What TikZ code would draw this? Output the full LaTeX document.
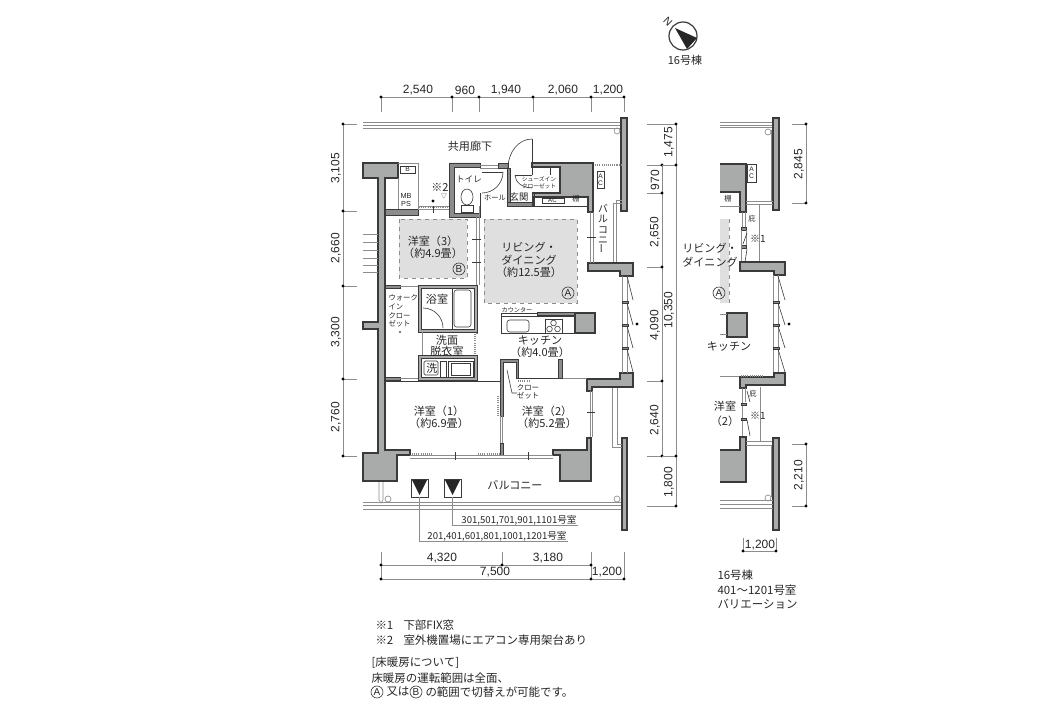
\documentclass[tikz,border=0pt]{standalone}
\usepackage{fontspec}
\setmainfont{Noto Sans CJK JP}
\newfontfamily\numfont{Liberation Sans}
\definecolor{wallgrey}{HTML}{A9ABAA}
\definecolor{zonegrey}{HTML}{DEDFDE}
\definecolor{lineink}{HTML}{3A3A3A}
\definecolor{thinink}{HTML}{8C8C8C}
\definecolor{textink}{HTML}{262626}
\tikzset{every picture/.style={line width=0.75pt}}
\tikzset{
  wall/.style={draw=lineink,fill=wallgrey,line width=0.8pt},
  partwall/.style={draw=lineink,fill=thinink,line width=0.5pt},
  fine/.style={draw=thinink,line width=0.5pt},
  ink/.style={draw=lineink,line width=0.45pt},
  dotrow/.style={draw=thinink,line width=1.6pt,dash pattern=on 0.8pt off 0.8pt},
  zone/.style={fill=zonegrey,draw=thinink,line width=0.6pt,dashed},
  dimline/.style={draw=thinink,line width=0.6pt},
  roomlbl/.style={inner sep=0pt,text=textink,font=\fontsize{8.3}{9}\selectfont,align=center},
  smalllbl/.style={inner sep=0pt,text=textink,font=\fontsize{6}{7.5}\selectfont,align=center},
  tinylbl/.style={inner sep=0pt,text=textink,font=\fontsize{4.6}{6}\selectfont,align=center},
  numlbl/.style={inner sep=0pt,text=textink,font=\numfont\fontsize{9}{10}\selectfont},
  notelbl/.style={inner sep=0pt,anchor=west,text=textink,font=\fontsize{8.6}{10}\selectfont},
  zonetag/.style={circle,draw=lineink,line width=0.5pt,inner sep=0pt,minimum size=9pt,text=textink,font=\numfont\fontsize{7.5}{8}\selectfont},
}
\begin{document}
\begin{tikzpicture}[x=0.75pt,y=0.75pt,yscale=-1,xscale=1]
\useasboundingbox (0,0) rectangle (1056,706);
% heated zones
\draw [zone] (399,219) rectangle (467,278);
\draw [zone] (484,219) rectangle (577,303);
\fill [zonegrey] (720,219) rectangle (729,303);
\draw [thinink,line width=0.6pt,dashed] (729,219) -- (729,303);
% corridor and balcony edges
\draw [fine] (363,122) -- (622,122);
\draw [fine] (363,125) -- (622,125);
\draw [fine] (363,128) -- (622,128);
\draw [fine] (363,502) -- (622,502);
\draw [fine] (363,505) -- (622,505);
\draw [fine] (363,509) -- (622,509);
\draw [wall] (621,118) rectangle (627,211);
\draw [wall] (622,438) rectangle (627,530);
\draw [fine] (617,131) circle (3);
\draw [fine] (388,499) circle (3);
\draw [fine] (617,499) circle (3);
\draw [fine] (379,481) -- (379,500) -- (381,503) -- (383,500) -- (383,481);
\draw [fine] (613,265) -- (613,203) -- (622,203);
\draw [fine] (616,265) -- (616,200) -- (622,200);
\draw [fine] (612,386) -- (612,447) -- (622,447);
\draw [fine] (617,386) -- (617,444) -- (622,444);
\draw [dotrow] (593,165) -- (621,165);
\draw [ink,fill=white] (597,171) rectangle (604,188);
\draw (600.5,179.5) node (acnorth) [tinylbl,font=\numfont\fontsize{5}{5.5}\selectfont] {A\\C};
% main walls
\draw [wall] (363,163) -- (398,163) -- (398,178) -- (385,178) -- (385,450) -- (410,450) -- (410,455) -- (397,455) -- (397,481) -- (363,481) -- (363,453) -- (378,453) -- (378,329) -- (363,329) -- (363,322) -- (378,322) -- (378,178) -- (363,178) -- cycle;
\draw [wall] (553,450) -- (587,450) -- (587,438) -- (591,438) -- (591,481) -- (560,481) -- (560,455) -- (553,455) -- cycle;
\draw [wall] (532,163) -- (593,163) -- (593,212) -- (588,212) -- (588,197) -- (533,197) -- (533,193) -- (560,193) -- (560,167) -- (532,167) -- cycle;
\draw [wall] (588,263) -- (633,263) -- (633,276) -- (620,276) -- (620,271) -- (588,271) -- cycle;
\draw [wall] (587,379) -- (620,379) -- (620,373) -- (633,373) -- (633,387) -- (592,387) -- (592,391) -- (587,391) -- cycle;
\draw [partwall] (385,209) rectangle (418,215);
\draw [partwall] (449,163) -- (480,163) -- (480,167) -- (454,167) -- (454,213) -- (480,213) -- (480,217) -- (449,217) -- cycle;
\draw [partwall] (498,163) rectangle (508,168);
\draw [partwall] (507,168) rectangle (510,203);
\draw [partwall] (507,202) rectangle (534,206);
\draw [partwall] (532,193) rectangle (534,206);
% stair ticks on the west side
\foreach \ty in {234,242,250,258,265,272} {
  \draw [fine] (363,\ty) -- (378,\ty);
}
% MB and PS
\draw [fine] (398,163) -- (418,163) -- (418,209);
\draw [fine] (398,178) -- (398,209);
\draw [ink,fill=white] (400,166) rectangle (415,173);
\draw (407.5,169.5) node (bbox) [tinylbl,font=\numfont\fontsize{5}{6}\selectfont] {B};
\draw (406,200) node (mbps) [tinylbl,font=\numfont\fontsize{5.5}{6}\selectfont] {MB\\PS};
\draw [fine] (418,206) -- (449,206);
\draw [fine] (418,209) -- (449,209);
\draw [dotrow] (419,207) -- (448,207);
\draw [ink] (433,206) -- (433,213);
% toilet
\draw [fine] (480,165) -- (498,165);
\draw [fine] (480,168) -- (498,168);
\draw [ink] (482,172) -- (503,172);
\draw [ink] (503,172) arc (0:90:21);
\draw [ink] (480,193) -- (480,213);
\draw [ink] (467,197) ellipse (6 and 8);
\draw [ink] (461,205) rectangle (473,212);
% entrance door and shoe closet
\draw [ink] (532,139) -- (532,175);
\draw [ink] (532,139) arc (-90:-180:24 and 29);
\draw [ink] (532,175) -- (515,175);
\draw [ink] (515,175) arc (180:90:17 and 13);
\draw [ink] (550,168) -- (550,175);
\draw [ink] (533,196) rectangle (588,206);
\draw [ink,fill=white] (542,198) rectangle (564,203);
% partition to the living room
\draw [fine] (476,217) -- (476,285);
\draw [fine] (479,206) -- (479,285);
\draw [ink] (472,239) -- (481,239);
\draw [ink] (472,262) -- (481,262);
\draw [dotrow] (477,286) -- (477,335);
% living window
\draw [fine] (590,212) -- (590,263);
\draw [fine] (593,212) -- (593,263);
\draw [ink] (587,237) -- (596,237);
% walk-in closet and bath
\draw [partwall] (385,285) rectangle (400,288);
\draw [fine] (400,286) -- (418,286);
\draw [partwall] (385,377) rectangle (400,380);
\draw [fine] (400,378) -- (418,378);
\draw [wall,line width=0.6pt] (418,285) rectangle (477,332);
\draw [fill=white,draw=lineink,line width=0.4pt] (421,288) rectangle (474,329);
\draw [ink] (452,288) -- (452,329);
\draw [ink,rounded corners=2pt] (454,290) rectangle (471,327);
\draw [ink] (423,308) arc (-90:0:20);
% washroom
\draw [fine] (422,332) -- (422,355);
\draw [wall,line width=0.6pt] (418,355) rectangle (477,380);
\draw [fill=white,draw=lineink,line width=0.4pt] (421,358) rectangle (474,377);
\draw [ink,rounded corners=1pt] (424,361) rectangle (438,375);
\draw [ink] (440,361) rectangle (446,377);
\draw [ink] (448,361) rectangle (473,377);
\draw [ink] (451,363) rectangle (470,375);
% wall between rooms and service core
\draw [ink] (385,381) -- (500,381);
\draw [dotrow] (475,334) -- (475,354);
\draw [ink] (518,378) -- (558,378);
\draw [fine] (562,378) -- (587,378);
\draw [dotrow] (518,381) -- (530,381);
% closet
\draw [partwall] (500,359) -- (518,359) -- (518,378) -- (516,378) -- (516,362) -- (503,362) -- (503,416) -- (500,416) -- cycle;
\draw [partwall] (558,359) rectangle (562,378);
\draw [dotrow] (498,396) -- (498,416);
\draw [fine] (500,416) -- (500,443);
\draw [fine] (502,416) -- (502,443);
\draw [partwall] (500,443) rectangle (503,455);
\draw [ink] (507,370) -- (512,393) -- (517,393);
% kitchen counter
\draw [ink] (501,313) rectangle (575,333);
\draw [ink] (501,316) -- (575,316);
\draw [partwall] (537,312) rectangle (575,315);
\draw [ink,rounded corners=2pt,fill=white] (507,320) rectangle (529,332);
\draw [ink,fill=white] (545,319) rectangle (562,333);
\draw [ink] (553.5,323) circle (2.8);
\draw [ink] (549.5,329) circle (2.8);
\draw [ink] (557.5,329) circle (2.8);
\draw [wall] (575,313) rectangle (595,333);
% east window of the kitchen
\draw [fine] (622,276) -- (622,373);
\draw [fine] (627,276) -- (627,373);
\draw [ink,fill=thinink] (622,301) rectangle (628,303);
\draw [ink,fill=thinink] (622,324) rectangle (628,326);
\draw [ink,fill=thinink] (622,347) rectangle (628,349);
\draw [ink] (627,276) -- (633,300);
\draw [ink] (627,303) -- (633,325);
\draw [ink] (627,326) -- (633,348);
\draw [ink] (627,349) -- (633,372);
\draw [fine] (590,263) -- (590,255);
\draw [fine] (593,263) -- (593,255);
% east window of bedroom 2
\draw [fine] (590,391) -- (590,437);
\draw [fine] (592,391) -- (592,437);
\draw [ink] (587,412) -- (595,412);
% south windows
\draw [fine] (410,455) -- (553,455);
\draw [fine] (410,458) -- (553,458);
\draw [dotrow] (412,454.5) -- (433,454.5);
\draw [dotrow] (478,454.5) -- (500,454.5);
\draw [ink] (455,452) -- (455,460);
\draw [ink] (528,452) -- (528,460);
% outdoor units and leaders
\draw [ink,fill=white] (411,479) rectangle (428,497);
\draw [ink,fill=white] (444,479) rectangle (461,497);
\fill [black!85] (412,480) -- (427,480) -- (419.5,495) -- cycle;
\fill [black!85] (445,480) -- (460,480) -- (452.5,495) -- cycle;
\draw [fine] (419.5,497) -- (419.5,541) -- (568,541);
\draw [fine] (452.5,497) -- (452.5,525) -- (578,525);
% dimensions top
\draw [dimline] (381,97) -- (624,97);
\foreach \dx in {381,452,479,533,591,624} {
  \draw [dimline] (\dx,97) -- (\dx,112);
  \fill [black] (\dx,97) circle (1.6);
}
% dimensions west
\draw [dimline] (343,124) -- (343,456);
\foreach \dy in {124,211,286,379,456} {
  \draw [dimline] (343,\dy) -- (357,\dy);
  \fill [black] (343,\dy) circle (1.6);
}
% dimensions east
\draw [dimline] (662,165) -- (662,456);
\draw [dimline] (676,124) -- (676,506);
\foreach \dy in {165,193,267,381,456} {
  \draw [dimline] (647,\dy) -- (662,\dy);
  \fill [black] (662,\dy) circle (1.6);
}
\draw [dimline] (647,124) -- (676,124);
\draw [dimline] (662,165) -- (676,165);
\draw [dimline] (662,456) -- (676,456);
\draw [dimline] (647,506) -- (676,506);
\foreach \dy in {124,165,456,506} {
  \fill [black] (676,\dy) circle (1.6);
}
% dimensions south
\draw [dimline] (381,552) -- (381,579);
\draw [dimline] (502,552) -- (502,565);
\draw [dimline] (591,552) -- (591,579);
\draw [dimline] (624,552) -- (624,579);
\draw [dimline] (381,565) -- (591,565);
\draw [dimline] (381,579) -- (624,579);
\foreach \dx/\dy in {381/565,502/565,591/565,381/579,591/579,624/579} {
  \fill [black] (\dx,\dy) circle (1.6);
}
% dimension labels
\draw (418,90) node (da) [numlbl] {2,540};
\draw (465,90) node (db) [numlbl] {960};
\draw (506,90) node (dc) [numlbl] {1,940};
\draw (563,90) node (dd) [numlbl] {2,060};
\draw (608,90) node (de) [numlbl] {1,200};
\draw (336,168) node (df) [numlbl,rotate=90] {3,105};
\draw (336,248) node (dg) [numlbl,rotate=90] {2,660};
\draw (336,332) node (dh) [numlbl,rotate=90] {3,300};
\draw (336,417) node (di) [numlbl,rotate=90] {2,760};
\draw (669,142) node (dj) [numlbl,rotate=90] {1,475};
\draw (655,180) node (dk) [numlbl,rotate=90] {970};
\draw (655,232) node (dl) [numlbl,rotate=90] {2,650};
\draw (655,325) node (dm) [numlbl,rotate=90] {4,090};
\draw (655,420) node (dn) [numlbl,rotate=90] {2,640};
\draw (669,310) node (dp) [numlbl,rotate=90] {10,350};
\draw (669,482) node (dq) [numlbl,rotate=90] {1,800};
\draw (442,558) node (dr) [numlbl] {4,320};
\draw (548,558) node (ds) [numlbl] {3,180};
\draw (495,572) node (dt) [numlbl] {7,500};
\draw (607,572) node (du) [numlbl] {1,200};
% variation plan, north part
\draw [fine] (720,122) -- (773,122);
\draw [fine] (720,125) -- (773,125);
\draw [fine] (720,127) -- (773,127);
\draw [wall] (773,118) rectangle (779,210);
\draw [fine] (768,132) circle (3);
\draw [fine] (771,130) -- (771,201);
\draw [wall] (720,164) -- (746,164) -- (746,212) -- (740,212) -- (740,192) -- (720,192);
\draw [ink,fill=white] (747,164) rectangle (756,182);
\draw (751.5,173) node (acvar) [tinylbl,font=\numfont\fontsize{5}{5.5}\selectfont] {A\\C};
\draw [fine] (720,206) -- (740,206);
\draw [fine] (746,201) -- (773,201);
\draw [fine] (746,204) -- (773,204);
\draw [fine] (759,204) -- (759,263);
\draw [fine] (742,212) -- (742,228);
\draw [fine] (745,212) -- (745,228);
\draw [ink,fill=thinink] (741,227) rectangle (746,230);
\draw [ink,fill=thinink] (741,245) rectangle (746,248);
\draw [fine] (741,230) -- (741,262);
\draw [fine] (746,230) -- (746,245);
\draw [ink] (747,233) -- (743,244);
\draw [ink] (747,249) -- (745,262);
\draw [wall] (740,262) -- (785,262) -- (785,275) -- (774,275) -- (774,271) -- (740,271) -- cycle;
% variation plan, window
\draw [fine] (773,275) -- (773,373);
\draw [fine] (778,275) -- (778,373);
\draw [ink,fill=thinink] (773,301) rectangle (779,303);
\draw [ink,fill=thinink] (773,324) rectangle (779,326);
\draw [ink,fill=thinink] (773,347) rectangle (779,349);
\draw [ink] (778,276) -- (785,300);
\draw [ink] (778,303) -- (785,325);
\draw [ink] (778,326) -- (785,348);
\draw [ink] (778,349) -- (785,372);
\draw [fine] (720,376) -- (740,376);
\draw [wall] (740,377) -- (774,377) -- (774,373) -- (785,373) -- (785,385) -- (746,385) -- (746,388) -- (740,388) -- cycle;
\draw [dotrow] (741,376) -- (763,376);
% variation plan, kitchen column
\draw [wall] (727,313) rectangle (747,337);
\draw [fine] (720,314) -- (727,314);
\draw [fine] (720,334) -- (727,334);
\fill [black] (789,324) circle (1.6);
\fill [black] (637,324) circle (1.6);
% variation plan, south part
\draw [fine] (742,388) -- (742,437);
\draw [fine] (745,388) -- (745,402);
\draw [ink,fill=thinink] (741,403) rectangle (746,405);
\draw [ink,fill=thinink] (741,418) rectangle (746,420);
\draw [ink] (747,391) -- (750,402);
\draw [ink] (747,420) -- (750,436);
\draw [fine] (760,387) -- (760,442);
\draw [wall] (720,482) -- (746,482) -- (746,437) -- (740,437) -- (740,450) -- (720,450);
\draw [fine] (746,441) -- (773,441);
\draw [fine] (746,445) -- (773,445);
\draw [wall] (773,438) rectangle (779,530);
\draw [fine] (771,445) -- (771,497);
\draw [fine] (768,498) circle (3);
\draw [fine] (720,500) -- (773,500);
\draw [fine] (720,504) -- (773,504);
\draw [fine] (720,508) -- (773,508);
% variation dimensions
\draw [dimline] (792,124) -- (806,124) -- (806,203) -- (792,203);
\draw [dimline] (792,444) -- (806,444) -- (806,506) -- (792,506);
\draw [dimline] (743,538) -- (743,551) -- (776,551) -- (776,538);
\foreach \dx/\dy in {806/124,806/203,806/444,806/506,743/551,776/551} {
  \fill [black] (\dx,\dy) circle (1.6);
}
\draw (799,164) node (dv) [numlbl,rotate=90] {2,845};
\draw (799,475) node (dw) [numlbl,rotate=90] {2,210};
\draw (760,545) node (dx) [numlbl] {1,200};
% north mark
\draw [lineink,line width=0.9pt,fill=white] (683,36) circle (14);
\fill [black!85] (675,28) -- (697,38) -- (687,49) -- cycle;
\draw (668,22) node (northmark) [tinylbl,font=\numfont\fontsize{8}{9}\selectfont,rotate=-45] {N};
\draw (685,60) node (bldg) [roomlbl] {16号棟};
% room labels
\draw (470,146) node (corridor) [roomlbl] {共用廊下};
\draw (469,179) node (toilet) [smalllbl,font=\fontsize{6.4}{7.5}\selectfont] {トイレ};
\draw (495,198) node (hall) [tinylbl,font=\fontsize{5.4}{6}\selectfont] {ホール};
\draw (519,197) node (genkan) [roomlbl,font=\fontsize{7}{8}\selectfont] {玄関};
\draw (539,182.5) node (shoecl) [tinylbl,font=\fontsize{4.3}{5.4}\selectfont] {シューズイン\\クローゼット};
\draw (552.5,200.5) node (acin) [tinylbl,font=\numfont\fontsize{4.6}{5}\selectfont] {AC};
\draw (576,199) node (shelf) [tinylbl,font=\fontsize{5.5}{6}\selectfont] {棚};
\draw (440,187) node (notetwo) [roomlbl] {※2};
\draw (444,196) node (mark) [tinylbl] {▽};
\fill [black] (433,201) circle (1.6);
\draw (433,247) node (room3) [roomlbl] {洋室（3）\\（約4.9畳）};
\draw (459,269) node (tagb) [zonetag] {B};
\draw (529,260) node (living) [roomlbl,font=\fontsize{8.3}{9.4}\selectfont] {リビング・\\ダイニング\\（約12.5畳）};
\draw (568,293) node (taga) [zonetag] {A};
\draw (603,229) node (balcn) [smalllbl,font=\fontsize{7.4}{7.6}\selectfont] {バ\\ル\\コ\\ニ\\\rotatebox{90}{ー}};
\draw (388,311) node (wic) [smalllbl,anchor=west,align=left,font=\fontsize{5.5}{6.6}\selectfont] {ウォーク\\イン\\クロー\\ゼット};
\fill [black] (400,332) circle (0.9);
\draw (437,299) node (bath) [roomlbl] {浴室};
\draw (447,346) node (wash) [roomlbl,font=\fontsize{8.3}{7.6}\selectfont] {洗面\\脱衣室};
\draw (432,368) node (washer) [roomlbl] {洗};
\draw (517,310) node (counter) [tinylbl] {カウンター};
\draw (540,347) node (kitchen) [roomlbl] {キッチン\\（約4.0畳）};
\draw (528,392) node (closet) [smalllbl,align=left,font=\fontsize{5.6}{6}\selectfont] {クロー\\ゼット};
\draw (439,417) node (room1) [roomlbl] {洋室（1）\\（約6.9畳）};
\draw (547,417) node (room2) [roomlbl] {洋室（2）\\（約5.2畳）};
\draw (515,485) node (balcs) [roomlbl] {バルコニー};
\draw (519,520) node (unita) [smalllbl,font=\fontsize{7.2}{8}\selectfont] {301,501,701,901,1101号室};
\draw (497,536) node (unitb) [smalllbl,font=\fontsize{7.2}{8}\selectfont] {201,401,601,801,1001,1201号室};
% variation labels
\draw (728,199) node (shelfv) [tinylbl,font=\fontsize{5.5}{6}\selectfont] {棚};
\draw (752,219) node (eavea) [tinylbl,font=\fontsize{5.5}{6}\selectfont] {庇};
\draw (758,239) node (fixa) [smalllbl,font=\fontsize{7.5}{9}\selectfont] {※1};
\draw (710,255) node (livingv) [roomlbl,font=\fontsize{8.3}{10.5}\selectfont] {リビング・\\ダイニング};
\draw (719,293) node (tagav) [zonetag] {A};
\draw (729,347) node (kitchenv) [roomlbl] {キッチン};
\draw (753,394) node (eaveb) [tinylbl,font=\fontsize{5.5}{6}\selectfont] {庇};
\draw (758,416) node (fixb) [smalllbl,font=\fontsize{7.5}{9}\selectfont] {※1};
\draw (725,414) node (room2v) [roomlbl,font=\fontsize{8.3}{11}\selectfont] {洋室\\（2）};
% notes
\draw (717,575) node (vara) [notelbl] {16号棟};
\draw (717,590) node (varb) [notelbl] {401～1201号室};
\draw (717,604) node (varc) [notelbl] {バリエーション};
\draw (375,625) node (fixnote) [notelbl] {※1};
\draw (403,625) node (fixtext) [notelbl] {下部FIX窓};
\draw (375,640) node (acnote) [notelbl] {※2};
\draw (403,640) node (actext) [notelbl] {室外機置場にエアコン専用架台あり};
\draw (371,663) node (floora) [notelbl] {[床暖房について]};
\draw (371,678) node (floorb) [notelbl] {床暖房の運転範囲は全面、};
\draw (377,692) node (noteA) [zonetag] {A};
\draw (386,692) node (noteor) [notelbl] {又は};
\draw (416,692) node (noteB) [zonetag] {B};
\draw (425,692) node (noteend) [notelbl] {の範囲で切替えが可能です。};
\end{tikzpicture}
\end{document}
